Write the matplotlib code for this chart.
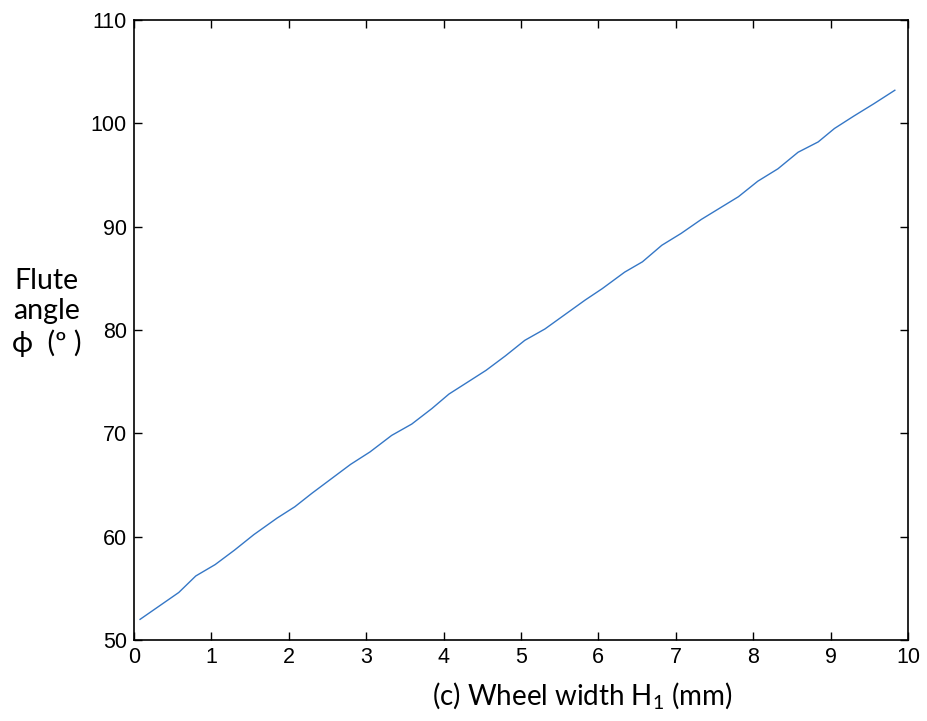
import matplotlib
matplotlib.use("Agg")
import matplotlib.pyplot as plt

# wheel width H1 (mm) vs flute angle (deg)
width_mm = [0.08, 0.33, 0.58, 0.80, 1.05, 1.30, 1.55, 1.85, 2.08, 2.30,
            2.55, 2.80, 3.05, 3.33, 3.59, 3.85, 4.07, 4.30, 4.55, 4.80,
            5.05, 5.31, 5.57, 5.83, 6.05, 6.34, 6.57, 6.82, 7.07, 7.33,
            7.57, 7.81, 8.06, 8.32, 8.58, 8.84, 9.05, 9.30, 9.56, 9.83]
flute_angle = [52.0, 53.3, 54.6, 56.2, 57.3, 58.7, 60.2, 61.8, 62.9, 64.2,
               65.6, 67.0, 68.2, 69.8, 70.9, 72.4, 73.8, 74.9, 76.1, 77.5,
               79.0, 80.1, 81.5, 82.9, 84.0, 85.6, 86.6, 88.2, 89.35, 90.7,
               91.8, 92.9, 94.4, 95.6, 97.2, 98.2, 99.5, 100.7, 101.9, 103.2]
xticks = list(range(0, 11))
yticks = [50, 60, 70, 80, 90, 100, 110]

plt.rcParams["font.family"] = ["Liberation Sans", "DejaVu Sans"]
plt.rcParams["mathtext.fontset"] = "custom"
plt.rcParams["mathtext.rm"] = "Lato"
LABEL_FONT = ["Lato", "DejaVu Sans"]

fig = plt.figure(figsize=(9.27, 7.21), dpi=100)
ax = fig.add_axes([0.1444, 0.1123, 0.8351, 0.8600])
ax.plot(width_mm, flute_angle, color="#3577c6", lw=1.0)

ax.set_xlim(0, 10); ax.set_ylim(50, 110)
ax.set_xticks(xticks); ax.set_yticks(yticks)
ax.tick_params(direction="in", length=6, width=1.0, top=True, right=True,
               labelsize=15.5, pad=5)
for sp in ax.spines.values():
    sp.set_linewidth(1.2)

# labels sit where the reference has them (x label is off-centre to the right)
fig.text(0.628, 0.035, r"(c) Wheel width H$_{\mathrm{1}}$ (mm)", ha="center", va="center",
         fontsize=20, family=LABEL_FONT)
fig.text(0.050, 0.567, "Flute\nangle\n\u03d5  (\u00ba )", ha="center", va="center",
         fontsize=20.5, family=LABEL_FONT, linespacing=1.22)

fig.savefig("out.png", dpi=100)
